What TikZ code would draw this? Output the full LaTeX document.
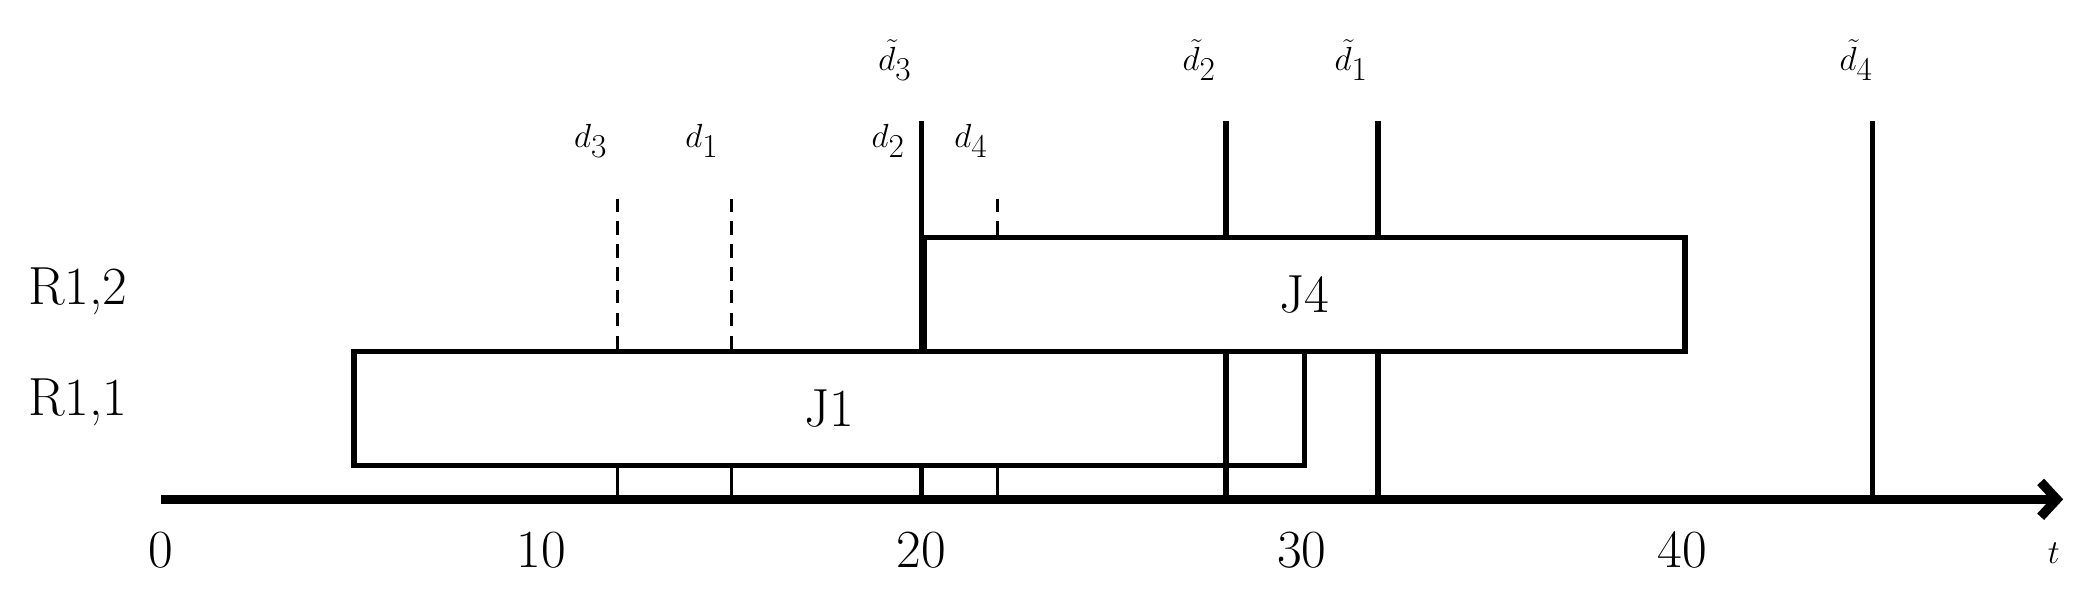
\documentclass[tikz,border=0pt]{standalone}
\usetikzlibrary{arrows.meta}
\begin{document}
\begin{tikzpicture}[x=1pt,y=-1pt,
  lbl/.style={font=\fontsize{40}{48}\selectfont,inner sep=0pt},
  solidv/.style={line width=4pt},
  dashv/.style={line width=2pt,dash pattern=on 10pt off 7pt},
  job/.style={draw,line width=4pt,fill=white}]
\useasboundingbox (0,0) rectangle (1560,446);
% dashed deadlines
\foreach \v/\n in {12/a,15/b,22/c}{
  \draw[dashv] ({120+28.33*\v},148) -- ({120+28.33*\v},372);}
% solid deadlines
\foreach \v in {20,28,32,45}{
  \draw[solidv] ({120+28.33*\v},90) -- ({120+28.33*\v},372);}
% jobs
\node[job,minimum width={28.33*25pt},minimum height=85pt,anchor=north west] (j1) at ({120+28.33*5},260) {};
\node[lbl] at (j1.center) {J1};
\node[job,minimum width={28.33*20pt},minimum height=85pt,anchor=north west] (j4) at ({120+28.33*20},175) {};
\node[lbl] at (j4.center) {J4};
% redraw lines over boxes where visible
\draw[solidv] ({120+28.33*28},90) -- ({120+28.33*28},175);
\draw[solidv] ({120+28.33*28},260) -- ({120+28.33*28},372);
\draw[solidv] ({120+28.33*32},90) -- ({120+28.33*32},175);
\draw[solidv] ({120+28.33*32},260) -- ({120+28.33*32},372);
\draw[dashv] ({120+28.33*12},345) -- ({120+28.33*12},372);
\draw[dashv] ({120+28.33*15},345) -- ({120+28.33*15},372);
\draw[dashv] ({120+28.33*22},345) -- ({120+28.33*22},372);
\draw[solidv] ({120+28.33*20},345) -- ({120+28.33*20},372);
% axis
\coordinate (o) at (120,372);
\coordinate (e) at (1537,372);
\draw[line width=7pt,-{Straight Barb[length=12pt,width=26pt]}] (o) -- (e);
\foreach \v in {0,10,20,30,40}{
  \node[lbl] at ({120+28.33*\v},410) {\v};}
\node[lbl] at (1530,412) {$t$};
% labels
\node[lbl] at (58,217) {R1,2};
\node[lbl] at (58,300) {R1,1};
\node[lbl] at ({120+28.33*12-20},105) {$d_3$};
\node[lbl] at ({120+28.33*15-22},105) {$d_1$};
\node[lbl] at ({120+28.33*20-25},105) {$d_2$};
\node[lbl] at ({120+28.33*22-20},105) {$d_4$};
\node[lbl] at ({120+28.33*20-20},45) {$\tilde d_3$};
\node[lbl] at ({120+28.33*28-20},45) {$\tilde d_2$};
\node[lbl] at ({120+28.33*32-20},45) {$\tilde d_1$};
\node[lbl] at ({120+28.33*45-12},45) {$\tilde d_4$};
\end{tikzpicture}
\end{document}
